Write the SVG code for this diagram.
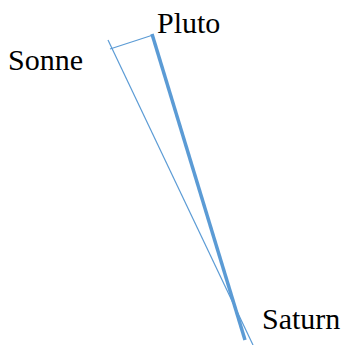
<svg xmlns="http://www.w3.org/2000/svg" width="344" height="345" viewBox="0 0 344 345">
<style>
.t{font-size:30px;fill:#000}
.l{stroke:#5b9bd5;fill:none;stroke-linecap:butt}
</style>
<rect width="344" height="345" fill="#fff"/>
<g id="connectors">
<line class="l" x1="108" y1="40" x2="253" y2="345" stroke-width="1.2"/>
<line class="l" x1="110" y1="49" x2="153" y2="35" stroke-width="1.2"/>
<line class="l" x1="152" y1="34" x2="245" y2="340" stroke-width="3.5"/>
</g>
<g font-family="Liberation Serif, DejaVu Serif, Times New Roman, serif">
<g id="pluto"><text class="t" x="157" y="33">Pluto</text></g>
<g id="sonne"><text class="t" x="8" y="70">Sonne</text></g>
<g id="saturn"><text class="t" x="262" y="329">Saturn</text></g>
</g>
</svg>
